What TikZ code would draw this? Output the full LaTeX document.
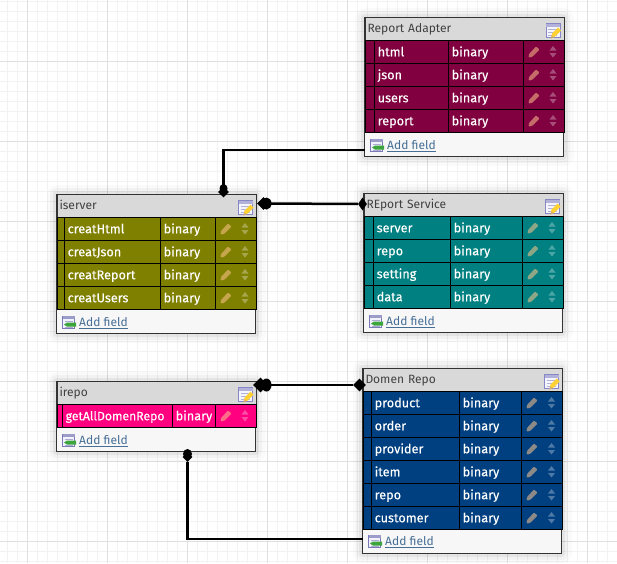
\documentclass[tikz,border=0pt]{standalone}
\usepackage{fontspec}
\setmainfont{Fira Sans}
\newfontfamily\cellfont[FakeBold=0.25]{Fira Sans}
\usepackage{tikz}
\usetikzlibrary{shapes.geometric, positioning}
\definecolor{rowmaroon}{RGB}{128,0,64}
\definecolor{rowolive}{RGB}{128,128,0}
\definecolor{rowteal}{RGB}{0,128,128}
\definecolor{rowpink}{RGB}{255,0,128}
\definecolor{rowblue}{RGB}{0,64,128}
\definecolor{linkblue}{RGB}{70,110,150}
\definecolor{taggreen}{RGB}{60,165,60}

\begin{document}
\begin{tikzpicture}[
    x=1pt, y=-1pt,
    minorgrid/.style={draw=black!5, line width=1pt},
    majorgrid/.style={draw=black!12, line width=1pt},
    tableframe/.style={draw=black!80, line width=1pt, fill=black!3, inner sep=0pt,
        preaction={draw=black, draw opacity=.02, line width=20pt, line join=round},
        preaction={draw=black, draw opacity=.03, line width=13pt, line join=round},
        preaction={draw=black, draw opacity=.05, line width=7pt, line join=round}},
    titlebar/.style={draw=black!80, line width=1pt, fill=black!15, text=black!75, anchor=west,
        inner xsep=2.5pt, inner ysep=0pt, text width=194pt, minimum height=23pt,
        text height=10pt, text depth=3pt, font=\fontsize{12}{15}\selectfont},
    plaincell/.style={draw=black, line width=1pt, anchor=west, inner sep=0pt, minimum height=23pt},
    fieldcell/.style={plaincell, text=white, inner xsep=3.7pt, align=left,
        text height=11.5pt, text depth=3pt, font=\fontsize{12.7}{15}\cellfont},
    addlabel/.style={text=linkblue, anchor=west, inner sep=0pt, font=\fontsize{12}{15}\selectfont},
    link/.style={draw=black, line width=2.5pt},
    diamondcap/.style={diamond, fill=black, inner sep=0pt, minimum width=#1, minimum height=#1},
    roundcap/.style={ellipse, fill=black, inner sep=0pt, minimum width=10pt, minimum height=12pt},
    pencil/.pic={
        \fill[rounded corners=1pt, fill=orange!45!white, opacity=.55]
            (-5.5,5.5) -- (-5,2) -- (2,-5.5) -- (5.5,-2.5) -- (-2,5) -- cycle;
    },
    updown/.pic={
        \fill[white, opacity=.3] (-3.5,-1.5) -- (0,-6) -- (3.5,-1.5) -- cycle;
        \fill[white, opacity=.3] (-3.5,1) -- (0,5.5) -- (3.5,1) -- cycle;
    },
    editicon/.pic={
        \draw[fill=blue!4, draw=blue!35!gray!70] (-7,-7) rectangle (7,7);
        \fill[blue!35!gray!45] (-7,-7) rectangle (7,-4);
        \foreach \l in {-1,2,5} {
            \draw[blue!35!gray!45, line width=.7pt] (-5,\l) -- (4,\l);
        }
        \fill[orange!45!yellow!80!white] (-2,8) -- (-1,3) -- (5,-3) -- (8,0) -- (2,6) -- cycle;
        \fill[brown!70] (-2,8) -- (-1.4,5) -- (1,6.8) -- cycle;
    },
    addicon/.pic={
        \draw[fill=blue!5, draw=blue!30!gray!80] (-6,-6) rectangle (6,6);
        \fill[blue!30!gray!60] (-6,-6) rectangle (6,-3.5);
        \foreach \l in {-1,2,5} {
            \draw[blue!30!gray!50, line width=.7pt] (-4,\l) -- (4,\l);
        }
        \fill[taggreen] (-4.5,2.5) -- (-1.5,0.5) -- (7.5,0.5) -- (7.5,4.5) -- (-1.5,4.5) -- cycle;
    }
]
    \useasboundingbox (0,0) rectangle (617,563);
    \fill[white] (0,0) rectangle (617,563);

    % Background grid
    \foreach \g in {7.5,17.5,...,617} {
        \draw[minorgrid] (\g,0) -- (\g,563);
    }
    \foreach \g in {1.5,11.5,...,563} {
        \draw[minorgrid] (0,\g) -- (617,\g);
    }
    \foreach \g in {27.5,107.5,...,617} {
        \draw[majorgrid] (\g,0) -- (\g,563);
    }
    \foreach \g in {61.5,141.5,...,563} {
        \draw[majorgrid] (0,\g) -- (617,\g);
    }

    % Report Adapter
    \node[tableframe, minimum width=199pt, minimum height=138.5pt] (adapter) at (464,86.75) {};
    \node[titlebar] (adapterhead) at (364.5,29) {Report Adapter};
    \pic at (553,30.5) {editicon};
    \foreach \i/\y/\f in {1/52/html, 2/75/json, 3/98/users, 4/121/report} {
        \node[plaincell, fill=rowmaroon, minimum width=9pt] (ag\i) at (364.5,\y) {};
        \node[fieldcell, fill=rowmaroon, text width=66.6pt] (af\i) at (373.5,\y) {\f};
        \node[fieldcell, fill=rowmaroon, text width=67.6pt] (at\i) at (447.5,\y) {binary};
        \node[plaincell, fill=rowmaroon, minimum width=41pt] (ae\i) at (522.5,\y) {};
        \pic at (534,\y) {pencil};
        \pic at (553,\y) {updown};
    }
    \pic at (376.5,145) {addicon};
    \node[addlabel] (adapteradd) at (387,146) {\underline{Add field}};

    % iserver
    \node[tableframe, minimum width=199pt, minimum height=138.5pt] (iserver) at (156,263.75) {};
    \node[titlebar] (iserverhead) at (56.5,206) {iserver};
    \pic at (245.5,207.5) {editicon};
    \foreach \i/\y/\f in {1/229/creatHtml, 2/252/creatJson, 3/275/creatReport, 4/298/creatUsers} {
        \node[plaincell, fill=rowolive, minimum width=7pt] (sg\i) at (56.5,\y) {};
        \node[fieldcell, fill=rowolive, text width=88.6pt] (sf\i) at (63.5,\y) {\f};
        \node[fieldcell, fill=rowolive, text width=47.6pt] (st\i) at (159.5,\y) {binary};
        \node[plaincell, fill=rowolive, minimum width=41pt] (se\i) at (214.5,\y) {};
        \pic at (226,\y) {pencil};
        \pic at (245,\y) {updown};
    }
    \pic at (68.5,322) {addicon};
    \node[addlabel] (iserveradd) at (79,323) {\underline{Add field}};

    % REport Service
    \node[tableframe, minimum width=199pt, minimum height=138.5pt] (service) at (463,262.75) {};
    \node[titlebar] (servicehead) at (363.5,205) {REport Service};
    \pic at (552.5,206.5) {editicon};
    \foreach \i/\y/\f in {1/228/server, 2/251/repo, 3/274/setting, 4/297/data} {
        \node[plaincell, fill=rowteal, minimum width=9pt] (rg\i) at (363.5,\y) {};
        \node[fieldcell, fill=rowteal, text width=69.6pt] (rf\i) at (372.5,\y) {\f};
        \node[fieldcell, fill=rowteal, text width=64.6pt] (rt\i) at (449.5,\y) {binary};
        \node[plaincell, fill=rowteal, minimum width=41pt] (re\i) at (521.5,\y) {};
        \pic at (533,\y) {pencil};
        \pic at (552,\y) {updown};
    }
    \pic at (375.5,321) {addicon};
    \node[addlabel] (serviceadd) at (386,322) {\underline{Add field}};

    % irepo
    \node[tableframe, minimum width=199pt, minimum height=70pt] (irepo) at (156,416.5) {};
    \node[titlebar] (irepohead) at (56.5,393) {irepo};
    \pic at (245.5,394.5) {editicon};
    \foreach \i/\y/\f in {1/416/getAllDomenRepo} {
        \node[plaincell, fill=rowpink, minimum width=5pt] (ig\i) at (56.5,\y) {};
        \node[fieldcell, fill=rowpink, text width=102.6pt, font=\fontsize{12.2}{15}\cellfont] (if\i) at (61.5,\y) {\f};
        \node[fieldcell, fill=rowpink, text width=35.6pt] (it\i) at (171.5,\y) {binary};
        \node[plaincell, fill=rowpink, minimum width=41pt] (ie\i) at (214.5,\y) {};
        \pic at (226,\y) {pencil};
        \pic at (245,\y) {updown};
    }
    \pic at (68.5,440) {addicon};
    \node[addlabel] (irepoadd) at (79,441) {\underline{Add field}};

    % Domen Repo
    \node[tableframe, minimum width=199pt, minimum height=184.5pt] (domen) at (462,460.75) {};
    \node[titlebar] (domenhead) at (362.5,380) {Domen Repo};
    \pic at (551.5,381.5) {editicon};
    \foreach \i/\y/\f in {1/403/product, 2/426/order, 3/449/provider, 4/472/item, 5/495/repo, 6/518/customer} {
        \node[plaincell, fill=rowblue, minimum width=8pt] (dg\i) at (362.5,\y) {};
        \node[fieldcell, fill=rowblue, text width=80.6pt] (df\i) at (370.5,\y) {\f};
        \node[fieldcell, fill=rowblue, text width=54.6pt] (dt\i) at (458.5,\y) {binary};
        \node[plaincell, fill=rowblue, minimum width=41pt] (de\i) at (520.5,\y) {};
        \pic at (532,\y) {pencil};
        \pic at (551.5,\y) {updown};
    }
    \pic at (374.5,541) {addicon};
    \node[addlabel] (domenadd) at (385,542.5) {\underline{Add field}};

    % Connector ends
    \node[diamondcap=11pt] (adapterkey) at (223.5,192) {};
    \node[roundcap, minimum width=8pt, minimum height=9pt] (adapterkeyb) at (223.5,188.5) {};
    \node[diamondcap=13pt] (serverkey) at (263.5,203.5) {};
    \node[roundcap] (serverkeyb) at (266.5,203.5) {};
    \node[diamond, fill=black, inner sep=0pt, minimum width=9pt, minimum height=13pt] (servicekey) at (362.5,204) {};
    \node[diamondcap=15pt] (repokey) at (260.5,385) {};
    \node[roundcap, minimum height=13pt] (repokeyb) at (266.5,385) {};
    \node[diamondcap=13pt] (domenkey) at (359.5,385) {};
    \node[diamondcap=10pt] (bottomkey) at (187.5,457) {};
    \node[roundcap, minimum width=9pt, minimum height=10pt] (bottomkeyb) at (187.5,454) {};
    \coordinate (adapterout) at (364.5,150);
    \coordinate (domenout) at (362.5,539);

    % Connectors
    \draw[link] (adapterout) -| (adapterkey);
    \draw[link] (servicekey) -- (serverkey);
    \draw[link] (domenkey) -- (repokey);
    \draw[link] (domenout) -| (bottomkey);
\end{tikzpicture}
\end{document}
